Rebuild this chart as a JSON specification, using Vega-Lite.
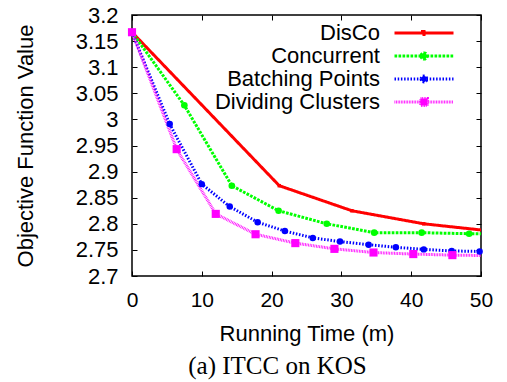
{
  "$schema": "https://vega.github.io/schema/vega-lite/v6.json",
  "width": 349,
  "height": 261,
  "autosize": {"type": "none"},
  "padding": {"left": 132, "top": 15, "right": 26, "bottom": 106},
  "background": "white",
  "config": {
    "view": {"stroke": "black", "strokeWidth": 1.5},
    "font": "Liberation Sans",
    "axis": {"labelFont": "Liberation Sans", "titleFont": "Liberation Sans", "labelColor": "black", "titleColor": "black", "tickColor": "black", "titleFontWeight": "normal", "grid": false, "domain": false}
  },
  "title": {"text": "(a) ITCC on KOS", "orient": "bottom", "anchor": "middle", "font": "Liberation Serif", "fontSize": 25, "fontWeight": "normal", "color": "black", "dx": -29, "offset": 10},
  "data": {"values": [
    {"t": 0, "v": 3.167, "s": "DisCo"},
    {"t": 21.1, "v": 2.873, "s": "DisCo"},
    {"t": 31.5, "v": 2.825, "s": "DisCo"},
    {"t": 41.8, "v": 2.800, "s": "DisCo"},
    {"t": 52.2, "v": 2.785, "s": "DisCo"},
    {"t": 0, "v": 3.167, "s": "Concurrent"},
    {"t": 7.5, "v": 3.027, "s": "Concurrent"},
    {"t": 14.3, "v": 2.873, "s": "Concurrent"},
    {"t": 21.0, "v": 2.825, "s": "Concurrent"},
    {"t": 27.9, "v": 2.800, "s": "Concurrent"},
    {"t": 34.7, "v": 2.783, "s": "Concurrent"},
    {"t": 41.5, "v": 2.783, "s": "Concurrent"},
    {"t": 48.3, "v": 2.781, "s": "Concurrent"},
    {"t": 55.1, "v": 2.780, "s": "Concurrent"},
    {"t": 0, "v": 3.167, "s": "Batching Points"},
    {"t": 5.4, "v": 2.991, "s": "Batching Points"},
    {"t": 10.0, "v": 2.876, "s": "Batching Points"},
    {"t": 14.0, "v": 2.833, "s": "Batching Points"},
    {"t": 18.0, "v": 2.803, "s": "Batching Points"},
    {"t": 21.9, "v": 2.786, "s": "Batching Points"},
    {"t": 25.9, "v": 2.773, "s": "Batching Points"},
    {"t": 29.8, "v": 2.766, "s": "Batching Points"},
    {"t": 33.9, "v": 2.760, "s": "Batching Points"},
    {"t": 37.8, "v": 2.755, "s": "Batching Points"},
    {"t": 41.8, "v": 2.751, "s": "Batching Points"},
    {"t": 45.8, "v": 2.748, "s": "Batching Points"},
    {"t": 49.8, "v": 2.747, "s": "Batching Points"},
    {"t": 0, "v": 3.167, "s": "Dividing Clusters"},
    {"t": 6.4, "v": 2.943, "s": "Dividing Clusters"},
    {"t": 12.0, "v": 2.819, "s": "Dividing Clusters"},
    {"t": 17.7, "v": 2.780, "s": "Dividing Clusters"},
    {"t": 23.4, "v": 2.763, "s": "Dividing Clusters"},
    {"t": 29.0, "v": 2.752, "s": "Dividing Clusters"},
    {"t": 34.6, "v": 2.745, "s": "Dividing Clusters"},
    {"t": 40.3, "v": 2.742, "s": "Dividing Clusters"},
    {"t": 45.9, "v": 2.740, "s": "Dividing Clusters"},
    {"t": 51.6, "v": 2.739, "s": "Dividing Clusters"}
  ]},
  "layer": [
    {
      "mark": {"type": "line", "strokeWidth": 3, "clip": true},
      "encoding": {
        "x": {"field": "t", "type": "quantitative", "scale": {"domain": [0, 50], "nice": false},
          "axis": {"orient": "bottom", "values": [0, 10, 20, 30, 40, 50], "tickSize": -5, "labelPadding": 18, "labelFontSize": 21, "titleFontSize": 22, "title": "Running Time (m)", "titlePadding": 13, "labelFlush": false}},
        "y": {"field": "v", "type": "quantitative", "scale": {"domain": [2.7, 3.2], "nice": false, "zero": false},
          "axis": {"orient": "left", "values": [2.7, 2.75, 2.8, 2.85, 2.9, 2.95, 3, 3.05, 3.1, 3.15, 3.2], "format": "~g", "tickSize": -5, "labelPadding": 19, "labelFontSize": 22, "titleFontSize": 22, "title": "Objective Function Value", "titlePadding": 38, "labelFlush": false}},
        "color": {"field": "s", "type": "nominal",
          "scale": {"domain": ["DisCo", "Concurrent", "Batching Points", "Dividing Clusters"], "range": ["#ff0000", "#00ff00", "#0000ff", "#ff00ff"]},
          "legend": {"orient": "none", "legendX": 281, "legendY": 7, "title": null, "labelFontSize": 22, "labelFont": "Liberation Sans", "labelColor": "black", "labelAlign": "right", "labelOffset": -55, "labelLimit": 400, "symbolSize": 100, "symbolOffset": 0, "symbolStrokeWidth": 3, "rowPadding": 1, "padding": 0,
            "encode": {"symbols": {"update": {
              "shape": {"signal": "datum.value === 'DisCo' ? 'M-5.9,0H5.9M-0.3,-0.3H0.3V0.3H-0.3Z' : datum.value === 'Concurrent' ? 'M-5.9,0H5.9M-0.62,0A0.62,0.62,0,1,0,0.62,0A0.62,0.62,0,1,0,-0.62,0Z' : datum.value === 'Batching Points' ? 'M-5.9,0H5.9M-0.58,0A0.58,0.58,0,1,0,0.58,0A0.58,0.58,0,1,0,-0.58,0Z' : 'M-5.9,0H5.9M-0.68,-0.68H0.68V0.68H-0.68Z'"},
              "fill": {"scale": "color", "field": "value"},
              "fillOpacity": {"value": 1},
              "strokeWidth": {"value": 3},
              "size": {"value": 100}
            }}}}},
        "strokeDash": {"field": "s", "type": "nominal",
          "scale": {"domain": ["DisCo", "Concurrent", "Batching Points", "Dividing Clusters"], "range": [[1, 0], [2.7, 1.3], [1.5, 1.7], [0.8, 0.8]]},
          "legend": {"orient": "none", "legendX": 281, "legendY": 7, "title": null, "labelFontSize": 22, "labelFont": "Liberation Sans", "labelColor": "black", "labelAlign": "right", "labelOffset": -55, "labelLimit": 400, "symbolSize": 100, "symbolOffset": 0, "symbolStrokeWidth": 3, "rowPadding": 1, "padding": 0,
            "encode": {"symbols": {"update": {
              "shape": {"signal": "datum.value === 'DisCo' ? 'M-5.9,0H5.9M-0.3,-0.3H0.3V0.3H-0.3Z' : datum.value === 'Concurrent' ? 'M-5.9,0H5.9M-0.62,0A0.62,0.62,0,1,0,0.62,0A0.62,0.62,0,1,0,-0.62,0Z' : datum.value === 'Batching Points' ? 'M-5.9,0H5.9M-0.58,0A0.58,0.58,0,1,0,0.58,0A0.58,0.58,0,1,0,-0.58,0Z' : 'M-5.9,0H5.9M-0.68,-0.68H0.68V0.68H-0.68Z'"},
              "fill": {"scale": "color", "field": "value"},
              "fillOpacity": {"value": 1},
              "strokeWidth": {"value": 3},
              "size": {"value": 100}
            }}}}}
      }
    },
    {
      "transform": [{"filter": "datum.t <= 50 && datum.s === 'DisCo'"}],
      "mark": {"type": "point", "filled": true, "opacity": 1, "clip": false, "shape": "square", "size": 12, "color": "#ff0000"},
      "encoding": {
        "x": {"field": "t", "type": "quantitative",
          "axis": {"orient": "top", "values": [0, 10, 20, 30, 40, 50], "tickSize": -5, "labels": false, "title": null}},
        "y": {"field": "v", "type": "quantitative",
          "axis": {"orient": "right", "values": [2.7, 2.75, 2.8, 2.85, 2.9, 2.95, 3, 3.05, 3.1, 3.15, 3.2], "tickSize": -5, "labels": false, "title": null}}
      }
    },
    {
      "transform": [{"filter": "datum.t <= 50 && datum.s === 'Concurrent'"}],
      "mark": {"type": "point", "filled": true, "opacity": 1, "clip": false, "shape": "circle", "size": 44, "color": "#00ff00"},
      "encoding": {
        "x": {"field": "t", "type": "quantitative", "axis": null},
        "y": {"field": "v", "type": "quantitative", "axis": null}
      }
    },
    {
      "transform": [{"filter": "datum.t <= 50 && datum.s === 'Batching Points'"}],
      "mark": {"type": "point", "filled": true, "opacity": 1, "clip": false, "shape": "circle", "size": 42, "color": "#0000ff"},
      "encoding": {
        "x": {"field": "t", "type": "quantitative", "axis": null},
        "y": {"field": "v", "type": "quantitative", "axis": null}
      }
    },
    {
      "transform": [{"filter": "datum.t <= 50 && datum.s === 'Dividing Clusters'"}],
      "mark": {"type": "point", "filled": true, "opacity": 1, "clip": false, "shape": "square", "size": 66, "color": "#ff00ff"},
      "encoding": {
        "x": {"field": "t", "type": "quantitative", "axis": null},
        "y": {"field": "v", "type": "quantitative", "axis": null}
      }
    }
  ],
  "resolve": {"axis": {"x": "independent", "y": "independent"}}
}
